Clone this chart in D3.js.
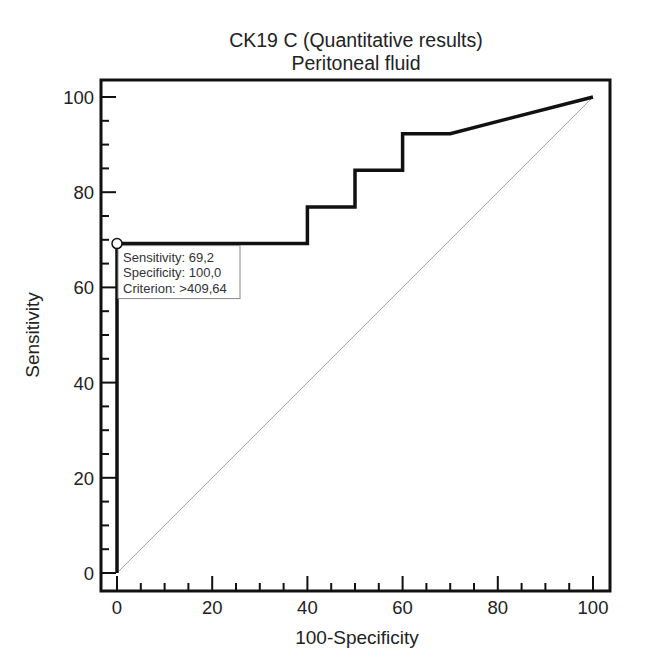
<!DOCTYPE html>
<html><head><meta charset="utf-8">
<script src="https://cdn.jsdelivr.net/npm/d3@7"></script>
<style>body{margin:0;background:#fff;} text{font-family:"Liberation Sans",Arial,sans-serif;}</style>
</head><body>
<svg id="c" width="650" height="668"></svg>
<script>
const fpr = [0, 0, 40, 40, 50, 50, 60, 60, 70, 100];
const sens = [0, 69.2, 69.2, 76.9, 76.9, 84.6, 84.6, 92.3, 92.3, 100];
const majorTicks = [0, 20, 40, 60, 80, 100];
const tipLines = ["Sensitivity: 69,2", "Specificity: 100,0", "Criterion: >409,64"];
const optPoint = {x: 0, y: 69.2};

const svg = d3.select("#c");
const x = d3.scaleLinear().domain([0, 100]).range([117, 593]);
const y = d3.scaleLinear().domain([0, 100]).range([573, 97]);
const frame = {l: 101, r: 610, t: 80, b: 591};
const txt = "#222";
const fs = 18.5;

// title
svg.append("text").attr("x", 356).attr("y", 47).attr("text-anchor", "middle").attr("font-size", 19.5).attr("fill", txt).text("CK19 C (Quantitative results)");
svg.append("text").attr("x", 356).attr("y", 70).attr("text-anchor", "middle").attr("font-size", 19.5).attr("fill", txt).text("Peritoneal fluid");

// diagonal
svg.append("line").attr("x1", x(0)).attr("y1", y(0)).attr("x2", x(100)).attr("y2", y(100))
  .attr("stroke", "#a8a8a8").attr("stroke-width", 1);

// ticks
const minor = d3.range(0, 101, 5);
const g = svg.append("g");
minor.forEach(v => {
  const isMaj = v % 20 === 0;
  const len = isMaj ? 15 : 8;
  g.append("line").attr("x1", x(v)).attr("x2", x(v)).attr("y1", frame.b).attr("y2", frame.b - len).attr("stroke", "#111").attr("stroke-width", 2);
  g.append("line").attr("y1", y(v)).attr("y2", y(v)).attr("x1", frame.l).attr("x2", frame.l + (isMaj ? 15 : 8)).attr("stroke", "#111").attr("stroke-width", 2);
});
majorTicks.forEach(v => {
  svg.append("text").attr("x", x(v)).attr("y", 614).attr("text-anchor", "middle").attr("font-size", fs).attr("fill", txt).text(v);
  svg.append("text").attr("x", 94).attr("y", y(v) + 7).attr("text-anchor", "end").attr("font-size", fs).attr("fill", txt).text(v);
});

// frame
svg.append("rect").attr("x", frame.l).attr("y", frame.t).attr("width", frame.r - frame.l).attr("height", frame.b - frame.t)
  .attr("fill", "none").attr("stroke", "#111").attr("stroke-width", 3);

// axis titles
svg.append("text").attr("x", 357).attr("y", 644).attr("text-anchor", "middle").attr("font-size", fs + 0.5).attr("fill", txt).text("100-Specificity");
svg.append("text").attr("transform", "translate(39,335) rotate(-90)").attr("text-anchor", "middle").attr("font-size", fs + 0.5).attr("fill", txt).text("Sensitivity");

// ROC
const pts = fpr.map((d, i) => [d, sens[i]]);
svg.append("path").attr("d", d3.line().x(d => x(d[0])).y(d => y(d[1]))(pts))
  .attr("fill", "none").attr("stroke", "#111").attr("stroke-width", 3.5).attr("stroke-linejoin", "miter");

// tooltip box
const bx = x(optPoint.x) + 1, by = y(optPoint.y) + 2;
svg.append("rect").attr("x", bx).attr("y", by).attr("width", 122).attr("height", 53)
  .attr("fill", "#fff").attr("stroke", "#888").attr("stroke-width", 1);
tipLines.forEach((t, i) => {
  svg.append("text").attr("x", bx + 5).attr("y", by + 16 + i * 15.5).attr("font-size", 13).attr("fill", "#333").text(t);
});
svg.append("circle").attr("cx", x(optPoint.x)).attr("cy", y(optPoint.y)).attr("r", 5)
  .attr("fill", "#fff").attr("stroke", "#111").attr("stroke-width", 1.5);
</script>
</body></html>
